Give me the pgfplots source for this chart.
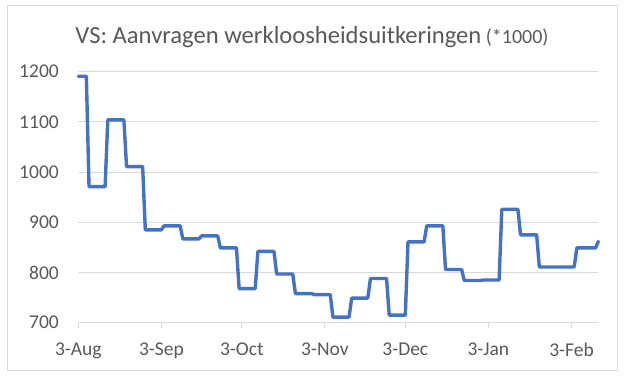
\documentclass[border=0pt]{standalone}
\usepackage{fontspec}
\setmainfont{Carlito}
\usepackage{pgfplots}
\pgfplotsset{compat=1.18}
\definecolor{xlblue}{HTML}{4472C4}
\definecolor{xltext}{HTML}{595959}
\definecolor{xlgrid}{HTML}{D9D9D9}
\begin{document}
\begin{tikzpicture}[x=1pt,y=1pt]
\path[use as bounding box] (0,0) rectangle (625,381);
\draw[xlgrid, line width=1pt] (7,11) rectangle (617,375);
\node[anchor=base, text=xltext, inner sep=0pt] at (312,337.7)
  {\fontsize{24.6}{28}\selectfont VS: Aanvragen werkloosheidsuitkeringen\fontsize{20}{23}\selectfont\ (*1000)};
\begin{axis}[
  at={(78.3pt,58.3pt)}, anchor=south west,
  scale only axis, width=520pt, height=251pt,
  xmin=0, xmax=194, ymin=700, ymax=1200,
  axis x line*=bottom, axis y line*=left,
  x axis line style={draw=xlgrid, line width=1pt, -},
  y axis line style={draw=none},
  xtick={0,31,61,92,122,153,184},
  xticklabels={3-Aug,3-Sep,3-Oct,3-Nov,3-Dec,3-Jan,3-Feb},
  ytick={700,800,900,1000,1100,1200},
  tick align=outside,
  major tick length=5pt,
  xtick style={draw=xlgrid, line width=1pt},
  ytick style={draw=none},
  ymajorgrids,
  grid style={draw=xlgrid, line width=1pt},
  ticklabel style={font=\fontsize{19.5}{23}\selectfont, text=xltext},
  /pgf/number format/assume math mode=true,
  /pgf/number format/1000 sep={},
  yticklabel style={xshift=-11pt},
  xticklabel style={yshift=-12pt},
  clip=false,
]
\addplot[xlblue, line width=3.4pt, line join=round, line cap=round] coordinates {
(0,1191) (3,1191) (4,971) (10,971) (11,1104) (17,1104) (18,1011) (24,1011)
(25,885) (31,885) (32,893) (38,893) (39,867) (45,867) (46,873) (52,873)
(53,849) (59,849) (60,768) (66,768) (67,842) (73,842) (74,797) (80,797)
(81,758) (87,758) (88,756) (94,756) (95,711) (101,711) (102,749) (108,749)
(109,788) (115,788) (116,715) (122,715) (123,861) (129,861) (130,893) (136,893)
(137,806) (143,806) (144,784) (150,784) (151,785) (157,785) (158,926) (164,926)
(165,875) (171,875) (172,811) (185,811) (186,849) (193,849) (194,862)
};
\end{axis}
\end{tikzpicture}
\end{document}
